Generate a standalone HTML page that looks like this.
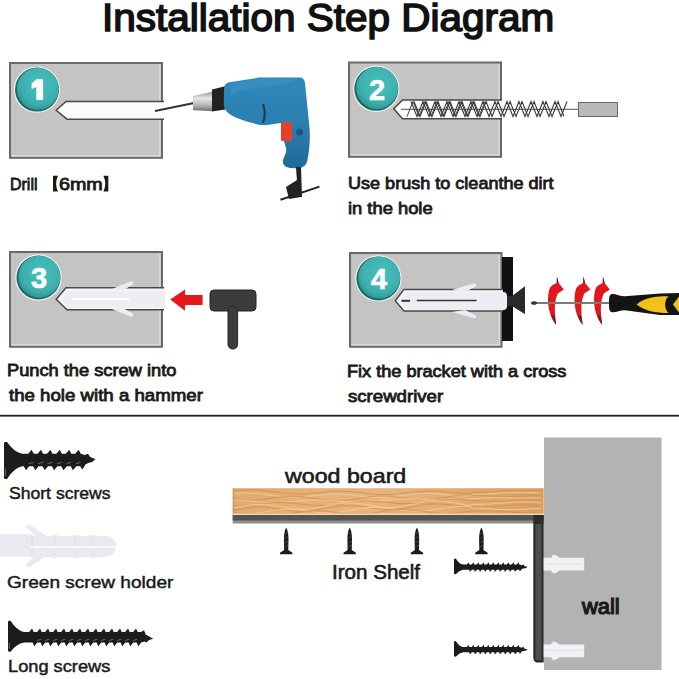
<!DOCTYPE html>
<html><head><meta charset="utf-8">
<style>
*{margin:0;padding:0;box-sizing:border-box}
html,body{width:679px;height:679px;background:#fff;overflow:hidden;position:relative;font-family:"Liberation Sans",sans-serif;color:#1a1a1a}
svg{position:absolute;left:0;top:0}
.t{position:absolute;white-space:nowrap;line-height:1;transform-origin:0 0}
.b{font-weight:bold}
</style></head><body>
<svg width="679" height="679" viewBox="0 0 679 679">
<defs>
<radialGradient id="teal" cx="0.55" cy="0.4" r="0.65">
<stop offset="0" stop-color="#48bfbc"/><stop offset="0.7" stop-color="#3cb0ae"/><stop offset="1" stop-color="#2c918f"/>
</radialGradient>
<linearGradient id="blue" x1="0" y1="0" x2="0" y2="1">
<stop offset="0" stop-color="#2f88bb"/><stop offset="0.5" stop-color="#2b7fb1"/><stop offset="1" stop-color="#1f6a98"/>
</linearGradient>
<linearGradient id="silver" x1="0" y1="0" x2="0" y2="1">
<stop offset="0" stop-color="#9a9a9a"/><stop offset="0.35" stop-color="#e6e6e6"/><stop offset="0.7" stop-color="#b5b5b5"/><stop offset="1" stop-color="#707070"/>
</linearGradient>
<linearGradient id="wood" x1="0" y1="0" x2="1" y2="0">
<stop offset="0" stop-color="#e2aa6f"/><stop offset="0.45" stop-color="#e8b47c"/><stop offset="0.75" stop-color="#e2aa6f"/><stop offset="1" stop-color="#d99f63"/>
</linearGradient>
<g id="circ">
<circle r="23.2" fill="#eef5f4"/>
<circle r="22" fill="#1f6664"/>
<circle cx="0.8" cy="-0.8" r="21" fill="url(#teal)"/>
</g>
<clipPath id="woodclip"><rect x="232.7" y="488.2" width="311" height="25.5"/></clipPath>
</defs>

<!-- ===== BOX 1 ===== -->
<rect x="10" y="63" width="152" height="94.8" fill="#c5c3c3" stroke="#6c6965" stroke-width="2"/>
<path d="M159.8,65 V155.8 H12" stroke="#dcdbd8" stroke-width="1.4" fill="none"/>
<path d="M164,101.5 H66 L56.2,110.3 L67,119.2 H164" fill="#fbfbfa" stroke="#4d4843" stroke-width="1.5"/>
<use href="#circ" x="37" y="89.6"/>
<!-- drill -->
<line x1="155" y1="111" x2="194" y2="103" stroke="#333" stroke-width="1.8"/>
<path d="M193,96 L213,91.6 L213,111.2 L193,110.2 Z" fill="url(#silver)"/>
<path d="M212,89.5 L225,86.2 L225,109.5 L212,111.5 Z" fill="#222"/>
<path d="M224,91 C224,85.5 226,82.5 229.5,82.3 L255.5,78.2 L258,77.4 L300,77.4 C303,77.4 305,80 305.2,85 L309.5,128 C310.5,140 309,154 307,162 C305,168 298,169 292,168 C286,168 282,165 283,160 C284,156 287,153 286,148 L284,141 L281,123 C270,124.5 263,126 257.7,124.5 C245,121 235,118 229.7,114.2 C225.5,111 223.8,108 223.8,104 Z" fill="url(#blue)"/>
<path d="M230,84 L255,79.5 L258,79 L298,79 C290,84 270,86 255,88 C245,89.5 235,92 230,96 Z" fill="#3d9ac8" opacity="0.45"/>
<path d="M263,104 Q266.5,113 263,123" stroke="#173a52" stroke-width="2" fill="none"/>
<rect x="281" y="122" width="11" height="19" rx="1.5" fill="#e5402a"/>
<circle cx="299.6" cy="132" r="3.5" fill="#1c5680"/>
<path d="M296,167 L301,167 L302,197 L298,197 Z" fill="#222"/>
<path d="M286,187 L297,180 L301,197 L289,199 Z" fill="#222"/>
<line x1="280.5" y1="199.8" x2="319.5" y2="186.6" stroke="#222" stroke-width="2"/>

<!-- ===== BOX 2 ===== -->
<rect x="349" y="62.5" width="152" height="94.3" fill="#c5c3c3" stroke="#6c6965" stroke-width="2"/>
<path d="M498.8,64.5 V154.8 H351" stroke="#dcdbd8" stroke-width="1.4" fill="none"/>
<path d="M502,100 H402.5 L393.8,108.8 L402.5,118.8 H502" fill="#fbfbfa" stroke="#4d4843" stroke-width="1.5"/>
<use href="#circ" x="376.3" y="88.8"/>
<line x1="401" y1="109.3" x2="579" y2="109.3" stroke="#555" stroke-width="1"/>
<polyline points="411.0,101.5 417.0,116.5 423.0,101.5 429.0,116.5 435.0,101.5 441.0,116.5 447.0,101.5 453.0,116.5 459.0,101.5 465.0,116.5 471.0,101.5 477.0,116.5 483.0,101.5 489.0,116.5 495.0,101.5 501.0,116.5 507.0,101.5 513.0,116.5 519.0,101.5 525.0,116.5 531.0,101.5 537.0,116.5 543.0,101.5 549.0,116.5 555.0,101.5 561.0,116.5 567.0,101.5" fill="none" stroke="#3a3a3a" stroke-width="1.1"/>
<polyline points="414.0,101.5 420.0,116.5 426.0,101.5 432.0,116.5 438.0,101.5 444.0,116.5 450.0,101.5 456.0,116.5 462.0,101.5 468.0,116.5 474.0,101.5 480.0,116.5 486.0,101.5 492.0,116.5 498.0,101.5 504.0,116.5 510.0,101.5 516.0,116.5 522.0,101.5 528.0,116.5 534.0,101.5 540.0,116.5 546.0,101.5 552.0,116.5 558.0,101.5 564.0,116.5" fill="none" stroke="#3a3a3a" stroke-width="1.1"/>
<polyline points="407.0,116.5 413.0,101.5 419.0,116.5 425.0,101.5 431.0,116.5 437.0,101.5 443.0,116.5 449.0,101.5 455.0,116.5 461.0,101.5 467.0,116.5 473.0,101.5 479.0,116.5 485.0,101.5" fill="none" stroke="#444" stroke-width="1"/>
<rect x="578.5" y="102.5" width="39" height="14" fill="#b9b9b9" stroke="#666" stroke-width="1"/>

<!-- ===== BOX 3 ===== -->
<rect x="10" y="252" width="152" height="94.8" fill="#c5c3c3" stroke="#6c6965" stroke-width="2"/>
<path d="M159.8,254 V344.8 H12" stroke="#dcdbd8" stroke-width="1.4" fill="none"/>
<path d="M164,287.7 H66 L56.2,299.2 L67,309.8 H164" fill="#f7f7f9" stroke="#4d4843" stroke-width="1.5"/>
<use href="#circ" x="38.5" y="277.5"/>
<path d="M61,299 L68,291 L165,291 L165,307.5 L68,307.5 Z" fill="#eeedf3"/>
<path d="M112,289 L130,281.5 Q134,281 133,284.5 L122,291 Z" fill="#ecebf1"/>
<path d="M112,309 L130,316.5 Q134,317.5 133,313.5 L122,307.5 Z" fill="#ecebf1"/>
<line x1="72" y1="299" x2="130" y2="299" stroke="#fff" stroke-width="2"/>
<path d="M170.2,299.5 L185,289.6 L185,295 L202.6,295 L202.6,305 L185,305 L185,310.8 Z" fill="#e5161c"/>
<rect x="210" y="290" width="46" height="21" rx="4" fill="#3c3c3c" stroke="#262626" stroke-width="1"/>
<rect x="228" y="306" width="9.6" height="43" rx="4.5" fill="#3c3c3c" stroke="#262626" stroke-width="1"/>

<!-- ===== BOX 4 ===== -->
<rect x="350" y="253" width="151.5" height="93.8" fill="#c5c3c3" stroke="#6c6965" stroke-width="2"/>
<path d="M499.3,255 V344.8 H352" stroke="#dcdbd8" stroke-width="1.4" fill="none"/>
<rect x="502" y="257" width="11" height="84" fill="#111"/>
<path d="M503,289.4 H404 L395.2,300.8 L404,311 H503" fill="#f7f7f9" stroke="#4d4843" stroke-width="1.5"/>
<use href="#circ" x="378.4" y="278.4"/>
<path d="M400,301 L407,292 L503,292 Q507,292 507,296 L507,306 Q507,310 503,310 L407,310 Z" fill="#eeedf3"/>
<path d="M452,290 L473,283.5 Q477,283 476,286.5 L465,292 Z" fill="#ecebf1"/>
<path d="M452,312 L473,318 Q477,319 476,315.5 L465,310 Z" fill="#ecebf1"/>
<line x1="416.8" y1="300.5" x2="476.6" y2="300.5" stroke="#333" stroke-width="1.6"/>
<line x1="401.5" y1="300.8" x2="410" y2="300.8" stroke="#333" stroke-width="2"/>
<path d="M507,296 L512,296 L525,286.3 L525,314.2 L512,306 L507,306 Z" fill="#2a2a2a"/>
<!-- red arrows -->
<g id="rarr">
<path d="M556.9,276.5 L558.6,283 L563.8,289.5 L557.8,293.5 C555.2,299 554.6,305 554.9,312 C555.1,318 556,322 556.1,324.8 C550.5,318 547.8,308 548,299 C548.3,293.5 549,290 550,287.8 C552,285.2 554.5,283.6 556.8,283 Z" fill="#e3161b"/>
<path d="M556.9,276.5 L558.6,283 L556.8,283.2 Z" fill="#5a1c1c"/>
<path d="M554.9,316 C555.1,319 556,322 556.1,324.8 C553.5,321.5 552,318 551,315 Z" fill="#7a1c1c"/>
</g>
<use href="#rarr" x="26.5" y="0"/>
<use href="#rarr" x="46" y="0"/>
<!-- screwdriver -->
<line x1="532" y1="303" x2="610" y2="303" stroke="#7a7a7a" stroke-width="2.2"/>
<ellipse cx="534" cy="303" rx="3" ry="1.8" fill="#333"/>
<path d="M612,294 C616,293.8 620,296.3 625,296.3 L660,293.4 L679,293 L679,315 L660,315 L625,310.2 C620,310.2 616,312.5 612,312.2 C609.5,312 609,309 609,303 C609,297 609.5,294.2 612,294 Z" fill="#141414"/>
<path d="M636.6,304.5 C645,297.5 655,296.3 668.6,296.3 C664,300 664,309 668.6,313 C655,313 645,311 636.6,304.5 Z" fill="#f2c21a"/>
<path d="M679,296.5 L673,304.5 L679,312.5 Z" fill="#f2c21a"/>

<!-- divider -->
<rect x="0" y="414.8" width="679" height="1.8" fill="#222"/>

<!-- ===== BOTTOM ===== -->
<!-- anchor -->
<g fill="#eae9ef">
<rect x="0" y="534.3" width="32" height="22.2"/>
<path d="M25.5,527 Q27,523.5 30.5,525 L49,537.5 L40,540 Z"/>
<path d="M25.5,564.5 Q27,568 30.5,566.5 L49,554 L40,551.5 Z"/>
<path d="M30,536 L50,536 Q55,533.8 60,536 L70,536 Q75,533.8 80,536 L88,536 Q93,533.8 98,536 L104,536 Q115,535 116,546 Q115,557.5 104,557 L98,557 Q93,559.2 88,557 L80,557 Q75,559.2 70,557 L60,557 Q55,559.2 50,557 L30,557 Z"/>
</g>
<g stroke="#dddce3" stroke-width="1" fill="none">
<path d="M32,535 L32,557"/>
<path d="M55,538 L55,544 M75,538 L75,544 M93,538 L93,544 M55,550 L55,555 M75,550 L75,555 M93,550 L93,555"/>
</g>
<line x1="30" y1="547" x2="116" y2="547" stroke="#f8f8fb" stroke-width="1.8"/>
<!-- wall -->
<rect x="544" y="437.5" width="117.5" height="232.5" fill="#b3b3b3"/>
<!-- wood -->
<rect x="232.7" y="488.2" width="311" height="27" fill="url(#wood)"/>
<g clip-path="url(#woodclip)">
<polyline points="233,490.8 237,490.5 241,490.2 245,490.0 249,489.9 253,489.9 257,490.0 261,490.3 265,490.7 269,491.1 273,491.6 277,492.1 281,492.6 285,493.1 289,493.5 293,493.7 297,493.9 301,493.9 305,493.8 309,493.5 313,493.2 317,492.9 321,492.5 325,492.1 329,491.8 333,491.5 337,491.3 341,491.3 345,491.4 349,491.6 353,491.9 357,492.3 361,492.7 365,493.2 369,493.6 373,494.0 377,494.3 381,494.5 385,494.5 389,494.5 393,494.3 397,494.0 401,493.6 405,493.1 409,492.7 413,492.2 417,491.8 421,491.4 425,491.2 429,491.1 433,491.1 437,491.2 441,491.4 445,491.8 449,492.1 453,492.5 457,492.8 461,493.1 465,493.4 469,493.5 473,492.5 477,492.4 481,492.3 485,492.1 489,491.9 493,491.6 497,491.3 501,491.1 505,490.8 509,490.6 513,490.5 517,490.3 521,490.3 525,490.3 529,490.3 533,490.4 537,490.4 541,490.5" fill="none" stroke="#cf9358" stroke-width="1.2" opacity="0.8"/>
<polyline points="233,493.6 237,493.3 241,493.0 245,492.9 249,493.0 253,493.1 257,493.5 261,493.9 265,494.4 269,494.9 273,495.5 277,496.0 281,496.5 285,496.9 289,497.1 293,497.2 297,497.1 301,497.0 305,496.7 309,496.3 313,495.8 317,495.3 321,494.9 325,494.5 329,494.2 333,494.1 337,494.0 341,494.1 345,494.4 349,494.7 353,495.2 357,495.6 361,496.1 365,496.6 369,497.0 373,497.2 377,497.4 381,497.4 385,497.3 389,497.0 393,496.6 397,496.1 401,495.6 405,495.1 409,494.5 413,494.1 417,493.7 421,493.5 425,493.3 429,493.4 433,493.5 437,493.8 441,494.2 445,494.6 449,495.0 453,495.4 457,495.7 461,495.9 465,496.0 469,496.0 473,494.8 477,494.6 481,494.4 485,494.1 489,493.9 493,493.6 497,493.3 501,493.0 505,492.8 509,492.7 513,492.6 517,492.5 521,492.5 525,492.6 529,492.7 533,492.8 537,492.9 541,493.0" fill="none" stroke="#f2c994" stroke-width="1.2" opacity="0.8"/>
<polyline points="233,498.5 237,499.1 241,499.6 245,500.0 249,500.1 253,500.1 257,500.0 261,499.6 265,499.2 269,498.7 273,498.1 277,497.6 281,497.1 285,496.7 289,496.4 293,496.4 297,496.5 301,496.7 305,497.1 309,497.6 313,498.2 317,498.8 321,499.4 325,499.9 329,500.4 333,500.6 337,500.7 341,500.6 345,500.4 349,500.0 353,499.4 357,498.8 361,498.2 365,497.5 369,497.0 373,496.5 377,496.2 381,496.0 385,496.0 389,496.2 393,496.5 397,497.0 401,497.5 405,498.0 409,498.5 413,499.0 417,499.3 421,499.5 425,499.5 429,499.4 433,499.1 437,498.6 441,498.0 445,497.3 449,496.6 453,496.0 457,495.4 461,494.9 465,494.5 469,494.3 473,495.5 477,495.5 481,495.6 485,495.7 489,495.9 493,496.0 497,496.2 501,496.3 505,496.4 509,496.4 513,496.4 517,496.3 521,496.1 525,495.9 529,495.6 533,495.3 537,495.0 541,494.7" fill="none" stroke="#cf9358" stroke-width="1.2" opacity="0.8"/>
<polyline points="233,499.8 237,500.0 241,500.3 245,500.6 249,501.0 253,501.4 257,501.8 261,502.1 265,502.3 269,502.5 273,502.6 277,502.5 281,502.4 285,502.2 289,501.9 293,501.5 297,501.2 301,500.9 305,500.6 309,500.3 313,500.2 317,500.1 321,500.1 325,500.3 329,500.5 333,500.7 337,501.0 341,501.3 345,501.6 349,501.9 353,502.0 357,502.1 361,502.1 365,502.0 369,501.7 373,501.4 377,501.1 381,500.7 385,500.2 389,499.8 393,499.5 397,499.2 401,499.0 405,498.8 409,498.8 413,498.9 417,499.0 421,499.2 425,499.5 429,499.7 433,500.0 437,500.2 441,500.3 445,500.4 449,500.3 453,500.2 457,499.9 461,499.6 465,499.2 469,498.8 473,498.5 477,498.3 481,498.1 485,497.9 489,497.8 493,497.7 497,497.7 501,497.7 505,497.7 509,497.7 513,497.8 517,497.9 521,498.0 525,498.0 529,498.1 533,498.1 537,498.1 541,498.0" fill="none" stroke="#f2c994" stroke-width="1.2" opacity="0.8"/>
<polyline points="233,505.6 237,505.7 241,505.6 245,505.4 249,505.1 253,504.7 257,504.2 261,503.8 265,503.4 269,503.0 273,502.8 277,502.6 281,502.6 285,502.7 289,502.9 293,503.2 297,503.6 301,504.0 305,504.4 309,504.8 313,505.1 317,505.3 321,505.4 325,505.4 329,505.2 333,504.9 337,504.5 341,504.0 345,503.5 349,503.0 353,502.5 357,502.1 361,501.8 365,501.5 369,501.5 373,501.5 377,501.7 381,501.9 385,502.2 389,502.6 393,502.9 397,503.3 401,503.5 405,503.7 409,503.7 413,503.7 417,503.5 421,503.1 425,502.7 429,502.2 433,501.7 437,501.1 441,500.6 445,500.2 449,499.9 453,499.7 457,499.6 461,499.6 465,499.8 469,500.1 473,500.7 477,500.8 481,500.9 485,501.0 489,501.1 493,501.2 497,501.2 501,501.1 505,501.0 509,500.9 513,500.7 517,500.5 521,500.3 525,500.1 529,499.9 533,499.8 537,499.6 541,499.6" fill="none" stroke="#cf9358" stroke-width="1.2" opacity="0.8"/>
<polyline points="233,507.8 237,507.1 241,506.3 245,505.6 249,505.0 253,504.6 257,504.3 261,504.3 265,504.4 269,504.8 273,505.3 277,506.0 281,506.7 285,507.4 289,508.1 293,508.6 297,509.0 301,509.2 305,509.2 309,508.9 313,508.5 317,507.8 321,507.1 325,506.2 329,505.4 333,504.6 337,504.0 341,503.4 345,503.1 349,503.0 353,503.1 357,503.4 361,503.9 365,504.5 369,505.2 373,505.9 377,506.5 381,507.0 385,507.3 389,507.5 393,507.4 397,507.1 401,506.6 405,506.0 409,505.2 413,504.4 417,503.5 421,502.7 425,502.1 429,501.6 433,501.2 437,501.2 441,501.3 445,501.6 449,502.1 453,502.7 457,503.4 461,504.1 465,504.8 469,505.3 473,504.3 477,504.3 481,504.3 485,504.2 489,504.0 493,503.7 497,503.4 501,503.1 505,502.8 509,502.5 513,502.2 517,502.0 521,501.9 525,501.9 529,502.0 533,502.2 537,502.4 541,502.7" fill="none" stroke="#f2c994" stroke-width="1.2" opacity="0.8"/>
<polyline points="233,510.4 237,509.7 241,509.0 245,508.3 249,507.8 253,507.4 257,507.1 261,507.1 265,507.2 269,507.6 273,508.0 277,508.6 281,509.3 285,509.9 289,510.5 293,510.9 297,511.2 301,511.3 305,511.3 309,511.0 313,510.5 317,509.9 321,509.2 325,508.4 329,507.6 333,506.9 337,506.3 341,505.8 345,505.6 349,505.5 353,505.6 357,505.9 361,506.3 365,506.9 369,507.5 373,508.1 377,508.6 381,509.1 385,509.4 389,509.5 393,509.4 397,509.1 401,508.6 405,508.0 409,507.3 413,506.6 417,505.8 421,505.1 425,504.5 429,504.1 433,503.8 437,503.8 441,503.9 445,504.3 449,504.7 453,505.3 457,506.0 461,506.7 465,507.3 469,507.8 473,506.8 477,506.8 481,506.8 485,506.7 489,506.5 493,506.3 497,506.1 501,505.8 505,505.5 509,505.3 513,505.1 517,505.0 521,504.9 525,504.9 529,505.1 533,505.2 537,505.5 541,505.8" fill="none" stroke="#cf9358" stroke-width="1.2" opacity="0.8"/>
<polyline points="233,513.5 237,513.5 241,513.5 245,513.5 249,513.5 253,513.5 257,513.1 261,512.4 265,511.8 269,511.1 273,510.5 277,510.0 281,509.6 285,509.3 289,509.3 293,509.4 297,509.7 301,510.1 305,510.6 309,511.1 313,511.6 317,512.1 321,512.4 325,512.6 329,512.7 333,512.6 337,512.3 341,511.8 345,511.3 349,510.6 353,509.9 357,509.2 361,508.6 365,508.1 369,507.7 373,507.5 377,507.4 381,507.6 385,507.8 389,508.3 393,508.8 397,509.3 401,509.8 405,510.3 409,510.7 413,511.0 417,511.1 421,511.0 425,510.7 429,510.3 433,509.8 437,509.2 441,508.6 445,507.9 449,507.4 453,506.9 457,506.6 461,506.5 465,506.5 469,506.7 473,508.0 477,508.2 481,508.4 485,508.7 489,508.9 493,509.2 497,509.4 501,509.5 505,509.6 509,509.6 513,509.6 517,509.5 521,509.4 525,509.2 529,509.0 533,508.8 537,508.7 541,508.5" fill="none" stroke="#f2c994" stroke-width="1.2" opacity="0.8"/>
<polyline points="233,512.9 237,513.2 241,513.5 245,513.5 249,513.5 253,513.5 257,513.5 261,513.5 265,513.5 269,513.5 273,513.5 277,513.5 281,513.5 285,513.5 289,513.5 293,513.4 297,512.7 301,512.1 305,511.6 309,511.2 313,511.0 317,510.9 321,511.0 325,511.3 329,511.7 333,512.2 337,512.7 341,513.3 345,513.5 349,513.5 353,513.5 357,513.5 361,513.5 365,513.5 369,513.5 373,513.0 377,512.3 381,511.7 385,511.0 389,510.4 393,510.0 397,509.6 401,509.4 405,509.5 409,509.6 413,510.0 417,510.4 421,511.0 425,511.6 429,512.2 433,512.7 437,513.1 441,513.4 445,513.5 449,513.5 453,513.3 457,512.9 461,512.5 465,511.9 469,511.3 473,511.2 477,511.0 481,510.9 485,510.8 489,510.8 493,510.9 497,511.0 501,511.2 505,511.5 509,511.8 513,512.1 517,512.4 521,512.7 525,512.9 529,513.1 533,513.2 537,513.3 541,513.3" fill="none" stroke="#cf9358" stroke-width="1.2" opacity="0.8"/>
</g>
<rect x="232.7" y="488.2" width="2" height="27" fill="#c99360" opacity="0.6"/>
<rect x="232.7" y="513.6" width="311" height="1.4" fill="#f3d9b8"/>
<rect x="232.7" y="515" width="311" height="8.5" fill="#8e8e8c"/>
<rect x="232.7" y="515" width="311" height="5.5" fill="#545452"/>
<!-- bracket vertical -->
<path d="M533.3,515 L543.7,515 L543.7,662.5 L537,662.5 Q533.3,662 533.3,657 Z" fill="#2c2c2c"/>
<rect x="535.5" y="524" width="6" height="136" fill="#4e4e4e"/>
<!-- wall anchors -->
<g id="wa">
<path d="M543.7,557.7 L551,557.7 L553,554.8 Q556,554.6 559.5,557.7 L584.2,557.7 L584.2,570.5 L559.5,570.5 Q556,573.6 553,573.4 L551,570.5 L543.7,570.5 Z" fill="#f2f2f6"/>
<path d="M546,563.8 L582,563.8" stroke="#e0e0e8" stroke-width="1"/>
</g>
<use href="#wa" x="0" y="86.8"/>


<!-- SCREWS-START -->
<path d="M4,443 Q4,442 5.5,442 L7,442 Q13.8,452.0 22,453.8 L22,466.3 Q13.8,468.2 7,479 L5.5,479 Q4,479 4,478 Z" fill="#1c1c1c"/>
<path d="M21.5,453.8 L28.2,453.8 L31.6,449.8 L33.8,453.8 L37.6,453.8 L41.0,449.8 L43.1,453.8 L47.0,453.8 L50.4,449.8 L52.5,453.8 L56.4,453.8 L59.8,449.8 L61.9,453.8 L65.8,453.8 L69.2,449.8 L71.3,453.8 L75.2,453.8 L78.6,449.8 L80.8,453.8 L84.7,455.0 L88.0,453.7 L90.2,457.1 L95.7,459.3 L95.1,459.6 L91.7,462.2 L89.6,462.4 L85.7,464.3 L82.3,469.4 L80.2,466.3 L76.2,466.3 L72.9,470.3 L70.8,466.3 L66.8,466.3 L63.5,470.3 L61.3,466.3 L57.4,466.3 L54.1,470.3 L51.9,466.3 L48.0,466.3 L44.7,470.3 L42.5,466.3 L38.6,466.3 L35.3,470.3 L33.1,466.3 L29.2,466.3 L25.9,470.3 L23.8,466.3 L21.5,466.3 Z" fill="#1c1c1c"/>
<path d="M28.8,463.6 L33.5,462.4 M38.2,463.6 L43.0,462.4 M47.6,463.6 L52.4,462.4 M57.0,463.6 L61.8,462.4 M66.5,463.6 L71.1,462.4 M75.9,463.6 L80.5,462.4" stroke="#7d7d7d" stroke-width="1" fill="none" opacity="0.8"/>
<path d="M5.3,468.6 L5.3,476.0" stroke="#8a8a8a" stroke-width="1" opacity="0.7"/>
<path d="M8,621.7 Q8,620.7 9.5,620.7 L10.5,620.7 Q16.6,630.3 24,632.0 L24,642.6 Q16.6,644.0 10.5,651.7 L9.5,651.7 Q8,651.7 8,650.7 Z" fill="#1c1c1c"/>
<path d="M23.5,632.0 L29.1,632.0 L32.0,628.4 L33.7,632.0 L37.1,632.0 L40.0,628.4 L41.7,632.0 L45.1,632.0 L48.0,628.4 L49.7,632.0 L53.1,632.0 L56.0,628.4 L57.7,632.0 L61.1,632.0 L64.0,628.4 L65.7,632.0 L69.1,632.0 L72.0,628.4 L73.7,632.0 L77.1,632.0 L80.0,628.4 L81.7,632.0 L85.1,632.0 L88.0,628.4 L89.7,632.0 L93.1,632.0 L96.0,628.4 L97.7,632.0 L101.1,632.0 L104.0,628.4 L105.7,632.0 L109.1,632.0 L112.0,628.4 L113.7,632.0 L117.1,632.0 L120.0,628.4 L121.7,632.0 L125.1,632.0 L128.0,628.4 L129.7,632.0 L133.1,632.0 L136.0,628.4 L137.7,632.0 L141.1,632.0 L144.0,630.3 L145.7,634.5 L153.2,638.7 L149.2,640.0 L146.3,642.6 L144.6,641.5 L141.2,642.6 L138.3,646.2 L136.6,642.6 L133.2,642.6 L130.3,646.2 L128.6,642.6 L125.2,642.6 L122.3,646.2 L120.6,642.6 L117.2,642.6 L114.3,646.2 L112.6,642.6 L109.2,642.6 L106.3,646.2 L104.6,642.6 L101.2,642.6 L98.3,646.2 L96.6,642.6 L93.2,642.6 L90.3,646.2 L88.6,642.6 L85.2,642.6 L82.3,646.2 L80.6,642.6 L77.2,642.6 L74.3,646.2 L72.6,642.6 L69.2,642.6 L66.3,646.2 L64.6,642.6 L61.2,642.6 L58.3,646.2 L56.6,642.6 L53.2,642.6 L50.3,646.2 L48.6,642.6 L45.2,642.6 L42.3,646.2 L40.6,642.6 L37.2,642.6 L34.3,646.2 L32.6,642.6 L23.5,642.6 Z" fill="#1c1c1c"/>
<path d="M36.9,640.6 L40.9,639.4 M44.9,640.6 L48.9,639.4 M52.9,640.6 L56.9,639.4 M60.9,640.6 L64.9,639.4 M68.9,640.6 L72.9,639.4 M76.9,640.6 L80.9,639.4 M84.9,640.6 L88.9,639.4 M92.9,640.6 L96.9,639.4 M100.9,640.6 L104.9,639.4 M108.9,640.6 L112.9,639.4 M116.9,640.6 L120.9,639.4 M124.9,640.6 L128.9,639.4 M132.9,640.6 L136.9,639.4" stroke="#7d7d7d" stroke-width="1" fill="none" opacity="0.8"/>
<path d="M9.3,643.0 L9.3,648.7" stroke="#8a8a8a" stroke-width="1" opacity="0.7"/>
<path d="M454,559.4 Q454,558.4 455.5,558.4 L455.8,558.4 Q459.0,563.6 463,564.5 L463,569.8 Q459.0,570.5 455.8,574.2 L455.5,574.2 Q454,574.2 454,573.2 Z" fill="#1c1c1c"/>
<path d="M462.5,564.5 L466.8,564.5 L468.6,562.3 L469.2,564.5 L471.8,564.5 L473.6,562.3 L474.2,564.5 L476.8,564.5 L478.6,562.3 L479.2,564.5 L481.8,564.5 L483.6,562.3 L484.2,564.5 L486.8,564.5 L488.6,562.3 L489.2,564.5 L491.8,564.5 L493.6,562.3 L494.2,564.5 L496.8,564.5 L498.6,562.3 L499.2,564.5 L501.8,564.5 L503.6,562.3 L504.2,564.5 L506.8,564.5 L508.6,562.3 L509.2,564.5 L511.8,564.5 L513.6,562.3 L514.2,564.5 L516.8,564.5 L518.6,562.3 L519.2,564.5 L521.8,565.2 L523.6,564.3 L524.2,566.0 L527.7,567.1 L526.8,567.4 L524.9,568.5 L524.2,568.3 L521.8,569.1 L519.9,571.5 L519.2,569.8 L516.8,569.8 L514.9,572.0 L514.2,569.8 L511.8,569.8 L509.9,572.0 L509.2,569.8 L506.8,569.8 L504.9,572.0 L504.2,569.8 L501.8,569.8 L499.9,572.0 L499.2,569.8 L496.8,569.8 L494.9,572.0 L494.2,569.8 L491.8,569.8 L489.9,572.0 L489.2,569.8 L486.8,569.8 L484.9,572.0 L484.2,569.8 L481.8,569.8 L479.9,572.0 L479.2,569.8 L476.8,569.8 L474.9,572.0 L474.2,569.8 L471.8,569.8 L469.9,572.0 L469.2,569.8 L462.5,569.8 Z" fill="#1c1c1c"/>
<path d="M454,641.9 Q454,640.9 455.5,640.9 L455.8,640.9 Q459.0,646.1 463,647.0 L463,652.3 Q459.0,653.0 455.8,656.7 L455.5,656.7 Q454,656.7 454,655.7 Z" fill="#1c1c1c"/>
<path d="M462.5,647.0 L466.8,647.0 L468.6,644.8 L469.2,647.0 L471.8,647.0 L473.6,644.8 L474.2,647.0 L476.8,647.0 L478.6,644.8 L479.2,647.0 L481.8,647.0 L483.6,644.8 L484.2,647.0 L486.8,647.0 L488.6,644.8 L489.2,647.0 L491.8,647.0 L493.6,644.8 L494.2,647.0 L496.8,647.0 L498.6,644.8 L499.2,647.0 L501.8,647.0 L503.6,644.8 L504.2,647.0 L506.8,647.0 L508.6,644.8 L509.2,647.0 L511.8,647.0 L513.6,644.8 L514.2,647.0 L516.8,647.0 L518.6,644.8 L519.2,647.0 L521.8,647.7 L523.6,646.8 L524.2,648.5 L527.7,649.6 L526.8,649.9 L524.9,651.0 L524.2,650.8 L521.8,651.6 L519.9,654.0 L519.2,652.3 L516.8,652.3 L514.9,654.5 L514.2,652.3 L511.8,652.3 L509.9,654.5 L509.2,652.3 L506.8,652.3 L504.9,654.5 L504.2,652.3 L501.8,652.3 L499.9,654.5 L499.2,652.3 L496.8,652.3 L494.9,654.5 L494.2,652.3 L491.8,652.3 L489.9,654.5 L489.2,652.3 L486.8,652.3 L484.9,654.5 L484.2,652.3 L481.8,652.3 L479.9,654.5 L479.2,652.3 L476.8,652.3 L474.9,654.5 L474.2,652.3 L471.8,652.3 L469.9,654.5 L469.2,652.3 L462.5,652.3 Z" fill="#1c1c1c"/>
<path d="M286.2,527.4 C288.03999999999996,530.4 288.5,535.4 288.5,539.4 L288.27,550.0 L292.4,552.7 L292.4,554.3 L280.0,554.3 L280.0,552.7 L284.13,550.0 L283.9,539.4 C283.9,535.4 284.36,530.4 286.2,527.4 Z" fill="#1c1c1c"/>
<path d="M284.1,534.4 L288.3,532.4 M284.1,538.6 L288.3,536.6 M284.1,542.8 L288.3,540.8 M284.1,547.0 L288.3,545.0" stroke="#777" stroke-width="0.7" opacity="0.6"/>
<path d="M349.7,527.4 C351.53999999999996,530.4 352.0,535.4 352.0,539.4 L351.77,550.0 L355.9,552.7 L355.9,554.3 L343.5,554.3 L343.5,552.7 L347.63,550.0 L347.4,539.4 C347.4,535.4 347.86,530.4 349.7,527.4 Z" fill="#1c1c1c"/>
<path d="M347.6,534.4 L351.8,532.4 M347.6,538.6 L351.8,536.6 M347.6,542.8 L351.8,540.8 M347.6,547.0 L351.8,545.0" stroke="#777" stroke-width="0.7" opacity="0.6"/>
<path d="M416.9,527.4 C418.73999999999995,530.4 419.2,535.4 419.2,539.4 L418.96999999999997,550.0 L423.09999999999997,552.7 L423.09999999999997,554.3 L410.7,554.3 L410.7,552.7 L414.83,550.0 L414.59999999999997,539.4 C414.59999999999997,535.4 415.06,530.4 416.9,527.4 Z" fill="#1c1c1c"/>
<path d="M414.8,534.4 L419.0,532.4 M414.8,538.6 L419.0,536.6 M414.8,542.8 L419.0,540.8 M414.8,547.0 L419.0,545.0" stroke="#777" stroke-width="0.7" opacity="0.6"/>
<path d="M481.4,527.4 C483.23999999999995,530.4 483.7,535.4 483.7,539.4 L483.46999999999997,550.0 L487.59999999999997,552.7 L487.59999999999997,554.3 L475.2,554.3 L475.2,552.7 L479.33,550.0 L479.09999999999997,539.4 C479.09999999999997,535.4 479.56,530.4 481.4,527.4 Z" fill="#1c1c1c"/>
<path d="M479.3,534.4 L483.5,532.4 M479.3,538.6 L483.5,536.6 M479.3,542.8 L483.5,540.8 M479.3,547.0 L483.5,545.0" stroke="#777" stroke-width="0.7" opacity="0.6"/>
<!-- SCREWS-END -->

<!-- digits -->
<g style="font-family:'Liberation Sans';font-weight:bold;font-size:29px" fill="#fff" stroke="#fff" stroke-width="0.6" text-anchor="middle">
</g><path d="M36.3,79.2 H43.1 V100 H36.3 V87 L31.6,89 V83.5 Z" fill="#fff"/><g style="font-family:'Liberation Sans';font-weight:bold;font-size:29px" fill="#fff" stroke="#fff" stroke-width="0.6" text-anchor="middle">
<text x="377" y="99.5">2</text>
<text x="39" y="288">3</text>
<text x="379" y="289">4</text>
</g>
<path d="M53,175.8 H58 Q54.3,183.7 58,191.6 H53 Z" fill="#1a1a1a"/>
<path d="M108.3,175.8 H103.4 Q107.1,183.7 103.4,191.6 H108.3 Z" fill="#1a1a1a"/>
</svg>

<div class="t" style="left:101.8px;top:-1.8px;font-size:39px;transform:scaleX(1.038);color:#111;-webkit-text-stroke:1.6px #111">Installation Step Diagram</div>
<div class="t" style="left:9.54px;top:175.76px;font-size:16.4px;transform:scaleX(0.975);-webkit-text-stroke:0.8px #1a1a1a">Drill</div>
<div class="t" style="left:58.81px;top:175.66px;font-size:16.4px;transform:scaleX(1.200);-webkit-text-stroke:0.8px #1a1a1a">6mm</div>
<div class="t" style="left:347.50px;top:174.66px;font-size:16.4px;transform:scaleX(1.101);-webkit-text-stroke:0.8px #1a1a1a">Use brush to cleanthe dirt</div>
<div class="t" style="left:347.67px;top:199.76px;font-size:16.4px;transform:scaleX(1.119);-webkit-text-stroke:0.8px #1a1a1a">in the hole</div>
<div class="t" style="left:7.30px;top:362.16px;font-size:16.4px;transform:scaleX(1.113);-webkit-text-stroke:0.8px #1a1a1a">Punch the screw into</div>
<div class="t" style="left:8.59px;top:386.66px;font-size:16.4px;transform:scaleX(1.138);-webkit-text-stroke:0.8px #1a1a1a">the hole with a hammer</div>
<div class="t" style="left:346.61px;top:363.36px;font-size:16.4px;transform:scaleX(1.105);-webkit-text-stroke:0.8px #1a1a1a">Fix the bracket with a cross</div>
<div class="t" style="left:348.00px;top:387.86px;font-size:16.4px;transform:scaleX(1.136);-webkit-text-stroke:0.8px #1a1a1a">screwdriver</div>
<div class="t" style="left:8.77px;top:485.46px;font-size:16.4px;transform:scaleX(1.072);-webkit-text-stroke:0.45px #1a1a1a">Short screws</div>
<div class="t" style="left:7.24px;top:573.76px;font-size:16.4px;transform:scaleX(1.163);-webkit-text-stroke:0.45px #1a1a1a">Green screw holder</div>
<div class="t" style="left:8.02px;top:658.36px;font-size:16.4px;transform:scaleX(1.112);-webkit-text-stroke:0.45px #1a1a1a">Long screws</div>
<div class="t" style="left:285.23px;top:464.75px;font-size:21px;transform:scaleX(1.105);-webkit-text-stroke:0.6px #1a1a1a">wood board</div>
<div class="t" style="left:331.65px;top:562.92px;font-size:19.5px;transform:scaleX(1.055);-webkit-text-stroke:0.6px #1a1a1a">Iron Shelf</div>
<div class="t" style="left:582.06px;top:596.9px;font-size:21.5px;transform:scaleX(1.017);-webkit-text-stroke:1.2px #1a1a1a">wall</div>
</body></html>
